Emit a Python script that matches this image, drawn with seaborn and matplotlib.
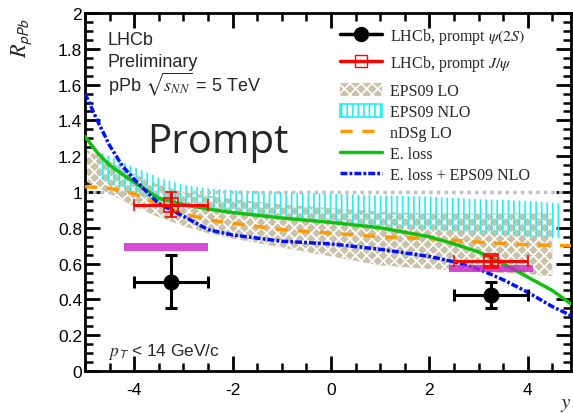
import numpy as np
import matplotlib
matplotlib.use("Agg")
import matplotlib.pyplot as plt
import seaborn as sns
from matplotlib.patches import Patch
from matplotlib.lines import Line2D
from matplotlib.ticker import MultipleLocator

# data points (rapidity bins)
psi_x = [-3.25, 3.25]
psi_y = [0.50, 0.425]
psi_xerr = [0.75, 0.75]
psi_yerr = [0.15, 0.075]

jpsi_x = [-3.25, 3.25]
jpsi_y = [0.93, 0.615]
jpsi_xerr = [0.75, 0.75]
jpsi_yerr = [0.07, 0.03]

# magenta boxes
sys_x_lo = [-4.2, 2.4]
sys_x_hi = [-2.5, 4.1]
sys_y_lo = [0.668, 0.553]
sys_y_hi = [0.713, 0.592]

# EPS09 NLO band
nlo_x = [-4.75, -4.5, -4.25, -4.0, -3.5, -3.0, -2.5, -2.0, -1.0, 0.0, 1.0, 2.0, 3.0, 4.0, 4.7]
nlo_hi = [1.23, 1.20, 1.17, 1.14, 1.08, 1.04, 1.02, 1.01, 1.0, 0.99, 0.98, 0.975, 0.96, 0.95, 0.935]
nlo_lo = [1.08, 1.05, 1.02, 0.99, 0.95, 0.92, 0.905, 0.89, 0.865, 0.84, 0.81, 0.79, 0.77, 0.75, 0.74]

# EPS09 LO band
lo_x = [-5.0, -4.5, -4.0, -3.5, -3.0, -2.5, -2.0, -1.0, 0.0, 1.0, 2.0, 3.0, 4.0, 4.5]
lo_hi = [1.24, 1.17, 1.10, 1.04, 1.00, 0.98, 0.96, 0.93, 0.91, 0.89, 0.88, 0.88, 0.88, 0.88]
lo_lo = [1.06, 0.99, 0.92, 0.86, 0.81, 0.77, 0.74, 0.69, 0.64, 0.59, 0.57, 0.555, 0.54, 0.53]

# nDSg LO
nds_x = [-5.0, -4.5, -4.0, -3.5, -3.0, -2.5, -2.0, -1.0, 0.0, 1.0, 2.0, 3.0, 4.0, 4.88]
nds_y = [1.03, 1.02, 0.99, 0.93, 0.88, 0.845, 0.825, 0.79, 0.77, 0.75, 0.74, 0.72, 0.705, 0.70]

# E. loss
el_x = [-5.0, -4.75, -4.5, -4.25, -4.0, -3.5, -3.0, -2.5, -2.0, -1.0, 0.0, 1.0, 2.0, 2.5, 3.0, 3.5, 4.0, 4.5, 4.88]
el_y = [1.31, 1.22, 1.15, 1.10, 1.055, 0.965, 0.93, 0.905, 0.885, 0.855, 0.83, 0.80, 0.75, 0.71, 0.665, 0.60, 0.525, 0.45, 0.375]

# E. loss + EPS09 NLO
eln_x = [-5.0, -4.75, -4.5, -4.25, -4.0, -3.5, -3.0, -2.5, -2.0, -1.0, 0.0, 1.0, 2.0, 2.5, 3.0, 3.5, 4.0, 4.5, 4.88]
eln_y = [1.55, 1.40, 1.26, 1.15, 1.07, 0.935, 0.865, 0.79, 0.76, 0.725, 0.71, 0.68, 0.64, 0.61, 0.57, 0.51, 0.44, 0.36, 0.31]

sns.set_theme(style="ticks")
plt.rcParams["font.family"] = ["Liberation Sans", "DejaVu Sans"]
plt.rcParams["mathtext.fontset"] = "stix"
plt.rcParams["hatch.linewidth"] = 1.2
plt.rcParams["axes.unicode_minus"] = False

beige = "#c9c1a8"
cyan = "#22f0f0"
orange = "#ff9a00"
green = "#12c012"
blue = "#0010ff"
magenta = "#cc22cc"

fig = plt.figure(figsize=(5.73, 4.14), dpi=100)
ax = fig.add_axes([85 / 573, 1 - 372 / 414, 486 / 573, 358 / 414])

ax.fill_between(lo_x, lo_lo, lo_hi, facecolor=beige, edgecolor="white", hatch="xxx", linewidth=0, zorder=1)
ax.fill_between(nlo_x, nlo_lo, nlo_hi, facecolor="none", edgecolor=cyan, hatch="|||", linewidth=0, zorder=2)
ax.plot([-5, 4.75], [1, 1], color="#c0c0c0", linestyle=(0, (1, 1.2)), linewidth=2.5, zorder=2)

sns.lineplot(x=nds_x, y=nds_y, ax=ax, color=orange, linewidth=2.5, linestyle=(0, (3.5, 2.8)), zorder=3)
sns.lineplot(x=el_x, y=el_y, ax=ax, color=green, linewidth=2.5, zorder=4)
sns.lineplot(x=eln_x, y=eln_y, ax=ax, color=blue, linewidth=2.5, linestyle=(0, (2, 0.6, 0.8, 0.6)), zorder=5)

widths = np.array(sys_x_hi) - np.array(sys_x_lo)
heights = np.array(sys_y_hi) - np.array(sys_y_lo)
ax.bar(sys_x_lo, heights, width=widths, bottom=sys_y_lo, align="edge", color=magenta, alpha=0.8, linewidth=0, zorder=6)

ax.errorbar(jpsi_x, jpsi_y, xerr=jpsi_xerr, yerr=jpsi_yerr, fmt="s", color="red", mfc="none", mec="red",
            ms=10, mew=1.2, elinewidth=2.2, capsize=4, capthick=2.2, zorder=7)
ax.errorbar(psi_x, psi_y, xerr=psi_xerr, yerr=psi_yerr, fmt="o", color="black", ms=10.5,
            elinewidth=2.2, capsize=4, capthick=2.2, zorder=8)

ax.set_xlim(-5, 4.88)
ax.set_ylim(0, 2)
ax.xaxis.set_major_locator(MultipleLocator(2))
ax.xaxis.set_minor_locator(MultipleLocator(0.5))
ax.yaxis.set_major_locator(MultipleLocator(0.2))
ax.yaxis.set_minor_locator(MultipleLocator(0.05))
ax.yaxis.set_major_formatter(matplotlib.ticker.FuncFormatter(lambda v, p: f"{v:g}"))
ax.xaxis.set_major_formatter(matplotlib.ticker.FuncFormatter(lambda v, p: f"{v:g}"))
ax.tick_params(which="both", direction="in", top=True, right=True, labelsize=12.5, colors="black")
ax.tick_params(which="major", length=11, width=2)
ax.tick_params(which="minor", length=5.5, width=1.8)
ax.tick_params(axis="x", pad=8)
ax.tick_params(axis="y", pad=2)
for s in ax.spines.values():
    s.set_linewidth(2)
    s.set_color("black")
ax.set_xlabel("")
ax.set_ylabel("")

fig.text(22 / 573, 1 - 18 / 414, r"$R_{\mathsf{pPb}}$", rotation=90, ha="center", va="top", fontsize=16)
fig.text(571 / 573, 0.0, r"$y$", ha="right", va="bottom", fontsize=15)

ax.text(0.047, 0.913, "LHCb", transform=ax.transAxes, fontsize=13, va="baseline")
ax.text(0.047, 0.852, "Preliminary", transform=ax.transAxes, fontsize=13, va="baseline")
ax.text(0.047, 0.785, r"pPb $\sqrt{s_{NN}}$ = 5 TeV", transform=ax.transAxes, fontsize=13, va="baseline")
ax.text(0.128, 0.612, "Prompt", transform=ax.transAxes, fontsize=29, va="baseline", family="Open Sans")
ax.text(0.047, 0.045, r"$p_{\mathsf{T}}$ < 14 GeV/c", transform=ax.transAxes, fontsize=12.5, va="baseline")

h1 = Line2D([], [], color="black", marker="o", ms=10, linewidth=2.5)
h2 = Line2D([], [], color="red", marker="s", mfc="none", mec="red", ms=9, linewidth=2.5)
leg1 = ax.legend([h1, h2], [r"LHCb, prompt $\psi\mathit{(2S)}$", r"LHCb, prompt $J/\psi$"],
                 loc="upper left", bbox_to_anchor=(0.525, 0.965), frameon=False, borderpad=0, borderaxespad=0,
                 handlelength=2.6, handletextpad=0.5, labelspacing=0.45,
                 prop={"family": "Liberation Serif", "size": 11.5})
ax.add_artist(leg1)

model_handles = [
    Patch(facecolor=beige, edgecolor="white", hatch="xxx", linewidth=0),
    Patch(facecolor="white", edgecolor=cyan, hatch="|||", linewidth=1.2),
    Line2D([], [], color=orange, linewidth=2.5, linestyle=(0, (3.5, 2.8))),
    Line2D([], [], color=green, linewidth=2.5),
    Line2D([], [], color=blue, linewidth=2.5, linestyle=(0, (2, 0.6, 0.8, 0.6))),
]
model_labels = ["EPS09 LO", "EPS09 NLO", "nDSg LO", "E. loss", "E. loss + EPS09 NLO"]
ax.legend(model_handles, model_labels, loc="upper left", bbox_to_anchor=(0.525, 0.805), frameon=False,
          borderpad=0, borderaxespad=0, handlelength=2.6, handleheight=0.9, handletextpad=0.5,
          labelspacing=0.3, prop={"family": "Liberation Serif", "size": 11.5})

fig.savefig("out.png", dpi=100)
